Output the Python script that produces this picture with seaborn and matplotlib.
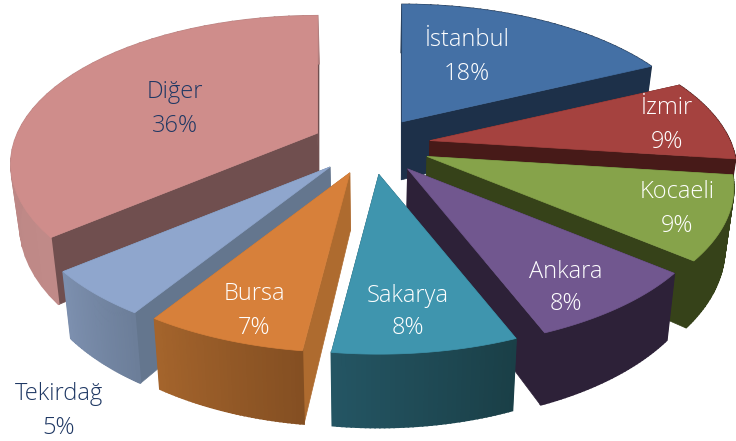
import numpy as np
import matplotlib
matplotlib.use('Agg')
import matplotlib.pyplot as plt
import seaborn as sns

names = ['İstanbul', 'İzmir', 'Kocaeli', 'Ankara', 'Sakarya', 'Bursa', 'Tekirdağ', 'Diğer']
values = [18, 9, 9, 8, 8, 7, 5, 36]
top_colors = ['#4470a5', '#a5423f', '#86a34a', '#71578f', '#3f95ae', '#d7803a', '#8fa6cd', '#cf8d8b']
cut_colors = ['#1d3049', '#471a18', '#364219', '#2d2138', '#1f4a56', '#ae6b2f', '#64768e', '#704f4f']
rim_left = ['#1d3049', '#471a18', '#364219', '#2d2138', '#245563', '#a4642c', '#7c8fae', '#b27f7e']
rim_right = ['#1d3049', '#471a18', '#364219', '#2d2138', '#1a3f47', '#844f22', '#6c7e99', '#c08a88']
text_colors = ['white', 'white', 'white', 'white', 'white', 'white', '#1f3864', '#1f3864']
label_xy = [(467, 57), (667, 125), (677, 209), (566, 288), (408, 312), (254, 311), (59, 411), (175, 109)]

# back to front
draw_order = [7, 0, 1, 2, 6, 5, 3, 4]

cx, cy = 371, 145
ax_scale, ay_scale = 300, 142
persp = 0.21
explode = 0.2
depth = 58
converge = 0.025


def project(u, v):
    d = 1 - persp * v
    return ax_scale * u / d, ay_scale * v / d


def rim_points(a0, a1, n=40):
    a = np.radians(np.linspace(a0, a1, n))
    return project(np.sin(a), -np.cos(a)), -np.cos(a)


def drop(x, y, v):
    # lower edge of the wall
    return x + (cx - x) * converge, y + depth / (1 - persp * v)


sns.set_theme(style='white')
plt.rcParams['font.family'] = ['Open Sans', 'DejaVu Sans']

fig = plt.figure(figsize=(7.36, 4.41), dpi=100)
ax = fig.add_axes([0, 0, 1, 1])
ax.set_xlim(0, 736)
ax.set_ylim(441, 0)
ax.axis('off')

edges = np.concatenate([[0], np.cumsum(values)]) * 3.6

for layer, i in enumerate(draw_order):
    z = 10 + layer
    a0, a1 = edges[i], edges[i + 1]
    mid = np.radians((a0 + a1) / 2)
    ox, oy = project(explode * np.sin(mid), -explode * np.cos(mid))
    px, py = cx + ox, cy + oy

    (rx, ry), rv = rim_points(a0, a1)
    rx, ry = rx + px, ry + py
    bx, by = drop(rx, ry, rv)
    apex_bx, apex_by = drop(px, py, 0)

    # the two cut faces
    for k in (0, -1):
        ax.fill([px, rx[k], bx[k], apex_bx], [py, ry[k], by[k], apex_by],
                color=cut_colors[i], lw=0.5, zorder=z)

    # outer wall, shaded strip by strip
    shades = sns.blend_palette([rim_right[i], rim_left[i]], len(rx) - 1)
    for j in range(len(rx) - 1):
        ax.fill([rx[j], rx[j + 1], bx[j + 1], bx[j]],
                [ry[j], ry[j + 1], by[j + 1], by[j]],
                color=shades[j], lw=1.2, zorder=z)

    ax.fill(np.r_[px, rx], np.r_[py, ry], color=top_colors[i], lw=0.5, zorder=z)

for name, val, (tx, ty), col in zip(names, values, label_xy, text_colors):
    ax.text(tx, ty, f'{name}\n{val}%', color=col, fontsize=17, fontweight='light',
            ha='center', va='center', linespacing=1.5, zorder=50)

fig.savefig('out.png', dpi=100)
